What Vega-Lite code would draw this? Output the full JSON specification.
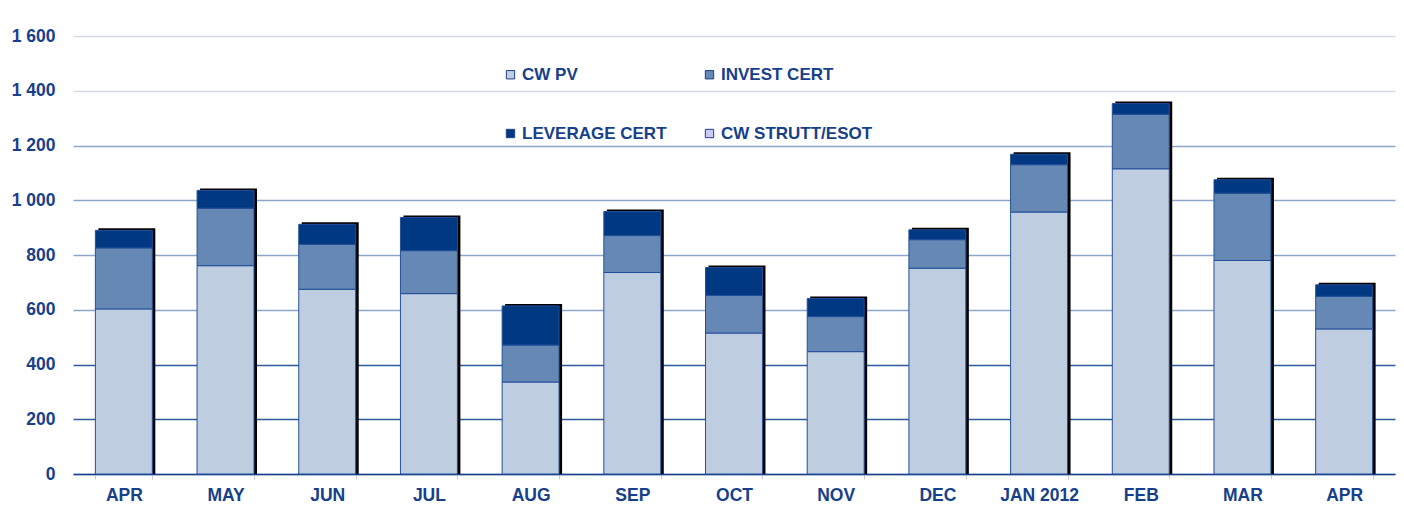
{
  "$schema": "https://vega.github.io/schema/vega-lite/v6.json",
  "width": 1404,
  "height": 509,
  "autosize": {"type": "fit", "contains": "padding"},
  "padding": {"left": 11, "top": 27, "right": 9, "bottom": 5},
  "background": "white",
  "config": {
    "view": {"stroke": null},
    "font": "Liberation Sans",
    "axis": {"labelFont": "Liberation Sans", "labelFontWeight": "bold", "labelFontSize": 17.5, "labelColor": "#17408B"}
  },
  "data": {
    "values": [
      {"month": "APR 2011", "series": "CW PV", "value": 603},
      {"month": "APR 2011", "series": "INVEST CERT", "value": 223},
      {"month": "APR 2011", "series": "LEVERAGE CERT", "value": 64},
      {"month": "MAY", "series": "CW PV", "value": 761},
      {"month": "MAY", "series": "INVEST CERT", "value": 210},
      {"month": "MAY", "series": "LEVERAGE CERT", "value": 65},
      {"month": "JUN", "series": "CW PV", "value": 675},
      {"month": "JUN", "series": "INVEST CERT", "value": 164},
      {"month": "JUN", "series": "LEVERAGE CERT", "value": 73},
      {"month": "JUL", "series": "CW PV", "value": 659},
      {"month": "JUL", "series": "INVEST CERT", "value": 157},
      {"month": "JUL", "series": "LEVERAGE CERT", "value": 121},
      {"month": "AUG", "series": "CW PV", "value": 336},
      {"month": "AUG", "series": "INVEST CERT", "value": 135},
      {"month": "AUG", "series": "LEVERAGE CERT", "value": 143},
      {"month": "SEP", "series": "CW PV", "value": 736},
      {"month": "SEP", "series": "INVEST CERT", "value": 135},
      {"month": "SEP", "series": "LEVERAGE CERT", "value": 88},
      {"month": "OCT", "series": "CW PV", "value": 515},
      {"month": "OCT", "series": "INVEST CERT", "value": 137},
      {"month": "OCT", "series": "LEVERAGE CERT", "value": 102},
      {"month": "NOV", "series": "CW PV", "value": 447},
      {"month": "NOV", "series": "INVEST CERT", "value": 128},
      {"month": "NOV", "series": "LEVERAGE CERT", "value": 66},
      {"month": "DEC", "series": "CW PV", "value": 752},
      {"month": "DEC", "series": "INVEST CERT", "value": 104},
      {"month": "DEC", "series": "LEVERAGE CERT", "value": 36},
      {"month": "JAN 2012", "series": "CW PV", "value": 957},
      {"month": "JAN 2012", "series": "INVEST CERT", "value": 173},
      {"month": "JAN 2012", "series": "LEVERAGE CERT", "value": 38},
      {"month": "FEB", "series": "CW PV", "value": 1115},
      {"month": "FEB", "series": "INVEST CERT", "value": 199},
      {"month": "FEB", "series": "LEVERAGE CERT", "value": 39},
      {"month": "MAR", "series": "CW PV", "value": 780},
      {"month": "MAR", "series": "INVEST CERT", "value": 246},
      {"month": "MAR", "series": "LEVERAGE CERT", "value": 49},
      {"month": "APR 2012", "series": "CW PV", "value": 530},
      {"month": "APR 2012", "series": "INVEST CERT", "value": 119},
      {"month": "APR 2012", "series": "LEVERAGE CERT", "value": 42}
    ]
  },
  "encoding": {
    "x": {
      "field": "month",
      "type": "nominal",
      "sort": ["APR 2011", "MAY", "JUN", "JUL", "AUG", "SEP", "OCT", "NOV", "DEC", "JAN 2012", "FEB", "MAR", "APR 2012"],
      "scale": {"paddingInner": 0.44, "paddingOuter": 0.22},
      "axis": {
        "title": null,
        "labelAngle": 0,
        "labelExpr": "indexof(datum.label, 'APR') == 0 ? 'APR' : datum.label",
        "domainColor": "#17408B",
        "domainWidth": 1.5,
        "tickBand": "extent",
        "tickColor": "#C8CED8",
        "tickSize": 5,
        "labelPadding": 7
      }
    }
  },
  "layer": [
    {
      "mark": {"type": "bar", "color": "#000000", "xOffset": 3, "yOffset": -2},
      "encoding": {
        "y": {
          "aggregate": "sum",
          "field": "value",
          "type": "quantitative",
          "scale": {"domain": [0, 1600], "nice": false},
          "axis": {
            "title": null,
            "values": [0, 200, 400, 600, 800, 1000, 1200, 1400, 1600],
            "labelExpr": "replace(format(datum.value, ','), ',', ' ')",
            "domain": false,
            "ticks": false,
            "labelPadding": 18,
            "gridColor": {
              "condition": [
                {"test": "datum.value >= 1400", "value": "#D3DBE8"},
                {"test": "datum.value <= 400 && datum.value > 0", "value": "#2E5A9A"}
              ],
              "value": "#8EA6C9"
            },
            "gridWidth": 1.5
          }
        }
      }
    },
    {
      "mark": {"type": "bar", "stroke": "#23509A", "strokeWidth": 1},
      "encoding": {
        "y": {"field": "value", "type": "quantitative", "stack": "zero"},
        "order": {"field": "series", "sort": "ascending"},
        "color": {
          "field": "series",
          "type": "nominal",
          "scale": {
            "domain": ["CW PV", "INVEST CERT", "LEVERAGE CERT", "CW STRUTT/ESOT"],
            "range": ["#BFCDE0", "#6688B5", "#003882", "#C9CBF5"]
          },
          "legend": {
            "title": null,
            "orient": "none",
            "direction": "horizontal",
            "legendX": 429,
            "legendY": 30,
            "columns": 2,
            "columnPadding": 34,
            "rowPadding": 41,
            "symbolType": "square",
            "symbolSize": 70,
            "symbolStrokeColor": "#1F3F86",
            "symbolStrokeWidth": 1,
            "labelFont": "Liberation Sans",
            "labelFontWeight": "bold",
            "labelFontSize": 17,
            "labelColor": "#17408B",
            "labelOffset": 3
          }
        }
      }
    }
  ]
}
